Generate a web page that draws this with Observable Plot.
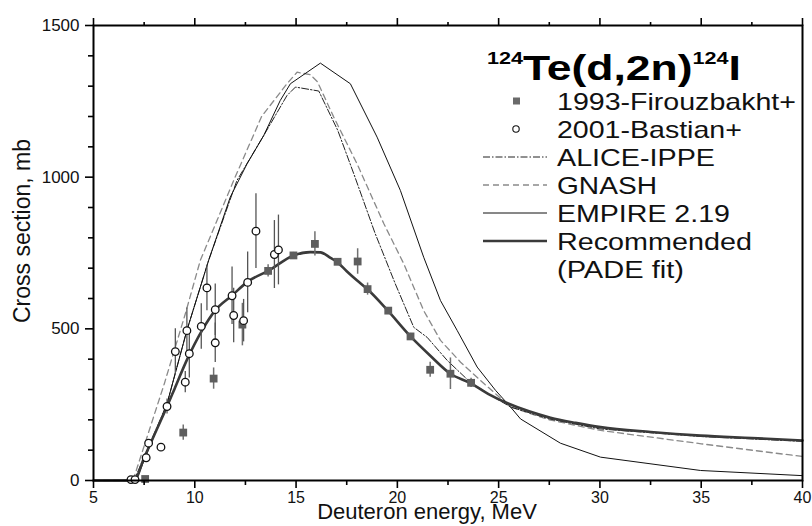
<!DOCTYPE html>
<html>
<head>
<meta charset="utf-8">
<script src="https://cdn.jsdelivr.net/npm/d3@7"></script>
<script src="https://cdn.jsdelivr.net/npm/@observablehq/plot@0.6"></script>
<style>
  html, body { margin: 0; padding: 0; background: #fff; }
  #wrap { position: relative; width: 812px; height: 526px; overflow: hidden; font-family: "Liberation Sans", Arial, sans-serif; }
  #legend { position: absolute; left: 0; top: 0; pointer-events: none; }
</style>
</head>
<body>
<div id="wrap"></div>
<script>
// ---- Data ----
// 1993-Firouzbakht+ (filled squares)
const firouzE   = [7.55, 9.43, 10.93, 12.35, 13.62, 14.87, 15.93, 17.05, 18.04, 18.53, 19.55, 20.65, 21.62, 22.62, 23.64];
const firouzS   = [5, 158, 336, 514, 691, 742, 780, 721, 722, 631, 560, 475, 365, 352, 322];
const firouzErr = [5, 25, 35, 70, 20, 10, 40, 10, 42, 20, 10, 10, 25, 52, 15];

// 2001-Bastian+ (open circles)
const bastianE   = [6.85, 7.05, 7.60, 7.72, 8.33, 8.63, 9.04, 9.53, 9.61, 9.73, 10.32, 10.60, 11.01, 11.01, 11.84, 11.92, 12.41, 12.61, 13.02, 13.93, 14.13];
const bastianS   = [3, 3, 75, 123, 110, 244, 425, 324, 494, 418, 508, 635, 563, 454, 609, 544, 527, 653, 822, 745, 760];
const bastianErr = [3, 3, 12, 12, 12, 25, 75, 35, 75, 80, 75, 75, 85, 65, 95, 90, 70, 100, 123, 112, 115];

// ALICE-IPPE (dash-dot)
const aliceE = [5, 7.0, 8.63, 9.61, 10.68, 12.08, 13.4, 14.55, 14.97, 16.12, 17.06, 17.85, 18.9, 19.9, 20.81, 21.47, 22.46, 23.5, 24.5, 25.6, 27.5, 30, 35, 40];
const aliceS = [0, 0, 253, 495, 725, 989, 1137, 1269, 1297, 1284, 1154, 1011, 815, 648, 505, 472, 396, 330, 285, 242, 203, 170, 145, 129];

// GNASH (dashed)
const gnashE = [5, 6.95, 8.5, 9.53, 10.27, 11.92, 13.3, 14.55, 15.05, 15.7, 16.05, 16.86, 18.01, 19.33, 20.32, 21.3, 22.13, 23.12, 24.3, 25.6, 27.5, 30.03, 35, 40];
const gnashS = [0, 0, 320, 549, 725, 989, 1200, 1308, 1346, 1338, 1315, 1198, 1044, 847, 714, 560, 462, 390, 318, 242, 200, 165, 121, 79];

// EMPIRE 2.19 (thin solid)
const empireE = [5, 7.1, 8.63, 9.61, 10.68, 11.75, 12.58, 13.4, 14.22, 14.72, 16.2, 17.68, 19.0, 20.15, 21.3, 22.13, 22.95, 23.94, 24.85, 25.59, 26.08, 28.05, 30.03, 34.97, 40];
const empireS = [0, 0, 253, 495, 725, 934, 1044, 1137, 1253, 1308, 1376, 1308, 1132, 956, 736, 593, 495, 374, 297, 242, 203, 123, 77, 33, 16];

// Recommended (PADE fit, thick)
const recE = [5, 7.0, 7.5, 8.0, 8.63, 9.0, 9.6, 10.36, 11.0, 11.84, 12.58, 13.65, 14.88, 15.7, 16.2, 16.7, 17.03, 17.5, 18.0, 18.5, 19.53, 20.65, 21.6, 22.62, 23.61, 24.5, 25.5, 26.5, 27.56, 28.8, 30.03, 32.5, 34.97, 37.5, 40];
const recS = [0, 0, 75, 150, 244, 302, 396, 495, 560, 610, 654, 692, 742, 753, 752, 734, 720, 690, 660, 632, 560, 475, 413, 352, 321, 285, 253, 228, 207, 190, 176, 160, 148, 140, 132];

// Axis ticks
const xMajor = [5, 10, 15, 20, 25, 30, 35, 40];
const xMinor = [7.5, 12.5, 17.5, 22.5, 27.5, 32.5, 37.5];
const yMajor = [0, 500, 1000, 1500];
const yMinor = [100, 200, 300, 400, 600, 700, 800, 900, 1100, 1200, 1300, 1400];

const xLabel = "Deuteron energy, MeV";
const yLabel = "Cross section, mb";

// ---- Build tables ----
const zip = (E, S) => E.map((e, i) => ({E: e, S: S[i]}));
const firouz = firouzE.map((e, i) => ({E: e, S: firouzS[i], err: firouzErr[i]}));
const bastian = bastianE.map((e, i) => ({E: e, S: bastianS[i], err: bastianErr[i]}));
const alice = zip(aliceE, aliceS);
const gnash = zip(gnashE, gnashS);
const empire = zip(empireE, empireS);
const rec = zip(recE, recS);

const FONT = "Liberation Sans, Arial, Helvetica, sans-serif";
const blank = () => "";
const plain = d => String(d);

const chart = Plot.plot({
  width: 812,
  height: 526,
  marginLeft: 93,
  marginRight: 10,
  marginTop: 25,
  marginBottom: 46,
  x: {domain: [5, 40], label: null},
  y: {domain: [0, 1500], label: null},
  style: {fontFamily: FONT, background: "white", color: "#111"},
  marks: [
    // model curves
    Plot.line(gnash, {x: "E", y: "S", stroke: "#8a8a8a", strokeWidth: 1.3, strokeDasharray: "6,4"}),
    Plot.line(alice, {x: "E", y: "S", stroke: "#222", strokeWidth: 1, strokeDasharray: "7,2,1.5,2"}),
    Plot.line(empire, {x: "E", y: "S", stroke: "#111", strokeWidth: 1}),
    Plot.line(rec, {x: "E", y: "S", stroke: "#3a3a3a", strokeWidth: 2.6, curve: "monotone-x"}),
    // error bars
    Plot.ruleX(firouz, {x: "E", y1: d => d.S - d.err, y2: d => d.S + d.err, stroke: "#707070", strokeWidth: 1.5}),
    Plot.ruleX(bastian, {x: "E", y1: d => d.S - d.err, y2: d => d.S + d.err, stroke: "#555", strokeWidth: 1.3}),
    // points
    Plot.dot(firouz, {x: "E", y: "S", symbol: "square", r: 4.4, fill: "#5e5e5e", stroke: "none"}),
    Plot.dot(bastian, {x: "E", y: "S", symbol: "circle", r: 3.8, fill: "white", stroke: "#111", strokeWidth: 1.3}),
    // frame
    Plot.frame({stroke: "#000", strokeWidth: 2}),
    // axes
    Plot.axisX({anchor: "bottom", ticks: xMajor, tickSize: 8, tickPadding: 3, tickFormat: plain, fontSize: 16, stroke: "#000", strokeWidth: 1.6, label: null}),
    Plot.axisX({anchor: "bottom", ticks: xMinor, tickSize: 5, tickFormat: blank, stroke: "#000", strokeWidth: 1.6, label: null}),
    Plot.axisX({anchor: "top", ticks: xMajor, tickSize: 8, tickFormat: blank, stroke: "#000", strokeWidth: 1.6, label: null}),
    Plot.axisX({anchor: "top", ticks: xMinor, tickSize: 4, tickFormat: blank, stroke: "#000", strokeWidth: 1.6, label: null}),
    Plot.axisY({anchor: "left", ticks: yMajor, tickSize: 8, tickPadding: 6, tickFormat: plain, fontSize: 17, stroke: "#000", strokeWidth: 1.6, label: null}),
    Plot.axisY({anchor: "left", ticks: yMinor, tickSize: 5, tickFormat: blank, stroke: "#000", strokeWidth: 1.6, label: null}),
    // axis titles
    Plot.text([xLabel], {frameAnchor: "bottom", textAnchor: "middle", dx: -21, dy: 31, fontSize: 22, lineAnchor: "middle", fill: "#111"}),
    Plot.text([yLabel], {frameAnchor: "left", textAnchor: "middle", rotate: -90, dx: -71, dy: -22, fontSize: 23, lineAnchor: "middle", fill: "#111"})
  ]
});

const wrap = document.getElementById("wrap");
wrap.appendChild(chart);

// ---- Legend overlay (inside the plot area, upper right) ----
const leg = d3.select(wrap).append("svg")
  .attr("id", "legend")
  .attr("width", 812).attr("height", 526)
  .style("font-family", FONT);

function fit(sel, x, y, targetW) {
  // place a text group at (x, baseline y) and stretch it horizontally to the measured width
  const w = sel.node().getBBox().width;
  const k = w > 0 ? targetW / w : 1;
  sel.attr("transform", `translate(${x},${y}) scale(${k},1)`);
}

// Title 124Te(d,2n)124I
const tg = leg.append("g");
const tt = tg.append("text").attr("x", 0).attr("y", 0).attr("fill", "#000").attr("font-weight", "bold");
tt.append("tspan").attr("font-size", 17).attr("dy", -16).text("124");
tt.append("tspan").attr("font-size", 35).attr("dy", 16).text("Te(d,2n)");
tt.append("tspan").attr("font-size", 17).attr("dy", -16).text("124");
tt.append("tspan").attr("font-size", 35).attr("dy", 16).text("I");
fit(tg, 487, 80, 254);

const legendItems = [
  {label: "1993-Firouzbakht+", y: 110, w: 239, kind: "square"},
  {label: "2001-Bastian+", y: 138, w: 185, kind: "circle"},
  {label: "ALICE-IPPE", y: 166, w: 158, kind: "alice"},
  {label: "GNASH", y: 194, w: 100, kind: "gnash"},
  {label: "EMPIRE 2.19", y: 222, w: 173, kind: "empire"},
  {label: "Recommended", y: 250, w: 195, kind: "rec"},
  {label: "(PADE fit)", y: 278, w: 127, kind: null}
];
for (const it of legendItems) {
  const g = leg.append("g");
  g.append("text").attr("font-size", 24).attr("fill", "#111").text(it.label);
  fit(g, 557, it.y, it.w);
  const cy = it.y - 9;
  if (it.kind === "square") {
    leg.append("rect").attr("x", 513).attr("y", cy - 3.5).attr("width", 7).attr("height", 7).attr("fill", "#6a6a6a");
  } else if (it.kind === "circle") {
    leg.append("circle").attr("cx", 516).attr("cy", cy).attr("r", 3.2).attr("fill", "white").attr("stroke", "#111").attr("stroke-width", 1.1);
  } else if (it.kind) {
    const st = {
      alice: {stroke: "#222", w: 1, dash: "7,2,1.5,2"},
      gnash: {stroke: "#8a8a8a", w: 1.3, dash: "6,4"},
      empire: {stroke: "#111", w: 1, dash: null},
      rec: {stroke: "#3a3a3a", w: 2.6, dash: null}
    }[it.kind];
    const ln = leg.append("line").attr("x1", 483).attr("x2", 547).attr("y1", cy).attr("y2", cy)
      .attr("stroke", st.stroke).attr("stroke-width", st.w);
    if (st.dash) ln.attr("stroke-dasharray", st.dash);
  }
}
</script>
</body>
</html>
